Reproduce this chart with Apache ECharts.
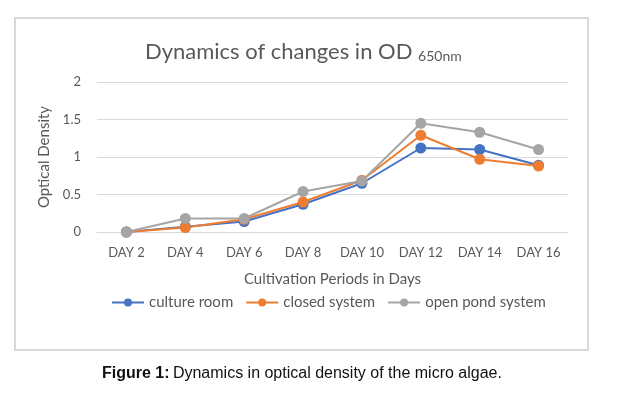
<!DOCTYPE html>
<html>
<head>
<meta charset="utf-8">
<script src="https://cdn.jsdelivr.net/npm/echarts@6/dist/echarts.min.js"></script>
<style>
  html, body { margin: 0; padding: 0; background: #fff; }
  #main { width: 626px; height: 399px; }
</style>
</head>
<body>
<div id="main"></div>
<script>
var days = ['DAY 2', 'DAY 4', 'DAY 6', 'DAY 8', 'DAY 10', 'DAY 12', 'DAY 14', 'DAY 16'];
var cultureRoom = [0, 0.07, 0.14, 0.37, 0.65, 1.12, 1.10, 0.89];
var closedSystem = [0, 0.06, 0.17, 0.40, 0.69, 1.29, 0.97, 0.88];
var openPond = [0, 0.18, 0.18, 0.54, 0.68, 1.45, 1.33, 1.10];
var seriesNames = ['culture room', 'closed system', 'open pond system'];

var chart = echarts.init(document.getElementById('main'));
var txt = '#595959';
var font = 'Lato, "Open Sans", sans-serif';

function line(name, data, color) {
  return {
    name: name,
    type: 'line',
    data: data,
    symbol: 'circle',
    symbolSize: 11,
    lineStyle: { color: color, width: 2 },
    itemStyle: { color: color },
    z: 3
  };
}

chart.setOption({
  animation: false,
  textStyle: { fontFamily: font },
  title: {
    text: '{a|Dynamics of changes in OD }{b|650nm}',
    left: 140,
    top: 30,
    textStyle: {
      rich: {
        a: { fontSize: 22, fontWeight: 'normal', color: txt, fontFamily: font, verticalAlign: 'bottom', lineHeight: 28 },
        b: { fontSize: 14, fontWeight: 'normal', color: txt, fontFamily: font, verticalAlign: 'bottom', lineHeight: 20, padding: [9, 0, 0, 0] }
      }
    }
  },
  legend: {
    data: seriesNames,
    top: 290,
    left: 106,
    itemWidth: 32,
    itemHeight: 10,
    itemGap: 12,
    textStyle: { color: txt, fontSize: 15, fontFamily: font }
  },
  grid: { left: 97, right: 58, top: 82, bottom: 167, containLabel: false },
  xAxis: {
    type: 'category',
    data: days,
    boundaryGap: true,
    axisLine: { lineStyle: { color: '#d9d9d9' } },
    axisTick: { show: false },
    axisLabel: { color: txt, fontSize: 13, margin: 14, fontFamily: font },
    name: 'Cultivation Periods in Days',
    nameLocation: 'middle',
    nameGap: 40,
    nameTextStyle: { color: txt, fontSize: 15, fontFamily: font }
  },
  yAxis: {
    type: 'value',
    min: 0,
    max: 2,
    interval: 0.5,
    axisLine: { show: false },
    axisTick: { show: false },
    splitLine: { lineStyle: { color: '#d9d9d9' } },
    axisLabel: { color: txt, fontSize: 13, margin: 16, fontFamily: font },
    name: 'Optical Density',
    nameLocation: 'middle',
    nameGap: 42,
    nameTextStyle: { color: txt, fontSize: 15, fontFamily: font }
  },
  graphic: [
    {
      type: 'rect',
      shape: { x: 15, y: 18, width: 573, height: 332 },
      style: { fill: 'none', stroke: '#d9d9d9', lineWidth: 2 },
      z: -1
    },
    {
      type: 'text',
      left: 102,
      top: 366,
      style: {
        text: '{b|Figure 1:} {n|Dynamics in optical density of the micro algae.}',
        rich: {
          b: { fontSize: 16, fontWeight: 'bold', fill: '#111', fontFamily: '"Liberation Sans", Arial, sans-serif' },
          n: { fontSize: 16, fill: '#111', fontFamily: '"Liberation Sans", Arial, sans-serif' }
        }
      }
    }
  ],
  series: [
    line(seriesNames[0], cultureRoom, '#4472C4'),
    line(seriesNames[1], closedSystem, '#ED7D31'),
    line(seriesNames[2], openPond, '#A5A5A5')
  ]
});
</script>
</body>
</html>
